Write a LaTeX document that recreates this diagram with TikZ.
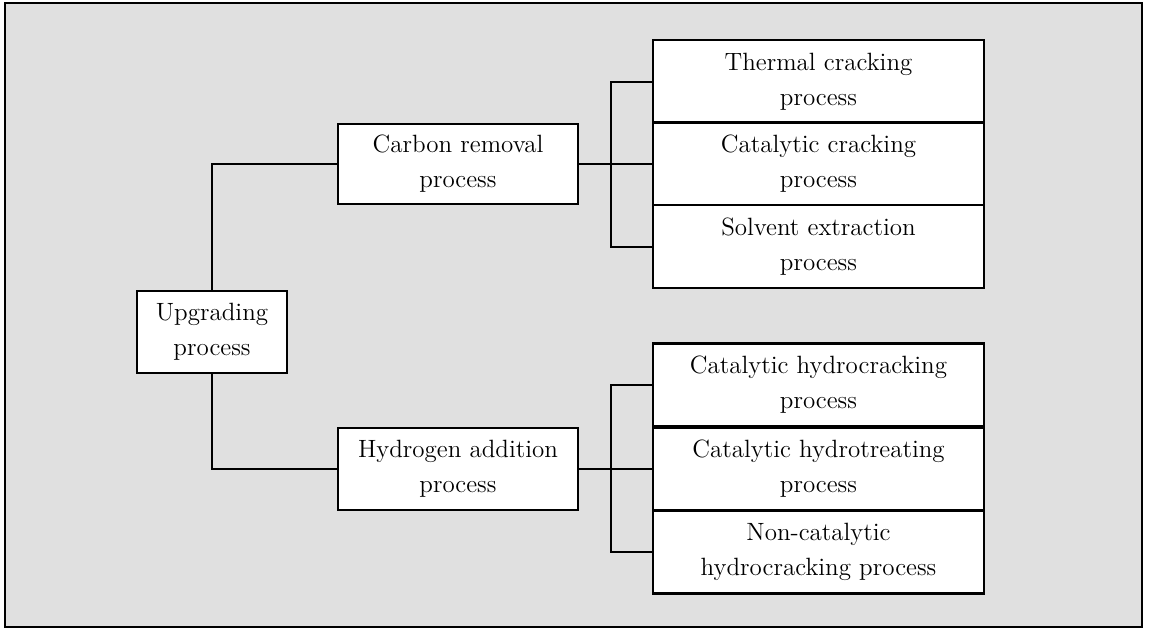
\documentclass[tikz,border=0pt]{standalone}
\usepackage{tikz}
\usetikzlibrary{positioning}
\definecolor{paper}{gray}{0.88}
\tikzset{
  procbox/.style={
    draw,
    line width=1.2pt,
    fill=white,
    align=center,
    inner sep=0pt
  },
  subbox/.style={
    procbox,
    minimum width=165.5pt,
    minimum height=41.5pt
  },
  link/.style={
    line width=1pt
  }
}

\begin{document}
\begin{tikzpicture}[x=0.5pt, y=-0.5pt, every node/.style={font=\fontsize{12.5}{17.5}\selectfont}]
\useasboundingbox (0,0) rectangle (1149,629);
\draw[line width=1pt, fill=paper] (5,3) rectangle (1142,627);
\newcommand\XMid{458}
\newcommand\XSub{818.5}
\node[procbox, minimum width=75pt, minimum height=41pt] (Upg) at (212,332) {Upgrading\\process};
\node[procbox, minimum width=120pt, minimum height=40pt] (Car) at (\XMid,164) {Carbon removal\\process};
\node[procbox, minimum width=120pt, minimum height=41pt] (Hyd) at (\XMid,469) {Hydrogen addition\\process};
\node[subbox] (C1) at (\XSub,81.5) {Thermal cracking\\process};
\node[subbox] (C2) at (\XSub,164) {Catalytic cracking\\process};
\node[subbox] (C3) at (\XSub,246.5) {Solvent extraction\\process};
\node[subbox] (H1) at (\XSub,385) {Catalytic hydrocracking\\process};
\node[subbox] (H2) at (\XSub,469) {Catalytic hydrotreating\\process};
\node[subbox] (H3) at (\XSub,552) {Non-catalytic\\hydrocracking process};
\coordinate (Cb) at (611,164);
\coordinate (Hb) at (611,469);

\draw[link] (Upg.north) |- (Car.west)
            (Upg.south) |- (Hyd.west)
            (Car.east) -- (C2.west)
            (Hyd.east) -- (H2.west)
            (C1.west) -- (C1.west -| Cb) -- (C3.west -| Cb) -- (C3.west)
            (H1.west) -- (H1.west -| Hb) -- (H3.west -| Hb) -- (H3.west);
\end{tikzpicture}
\end{document}
